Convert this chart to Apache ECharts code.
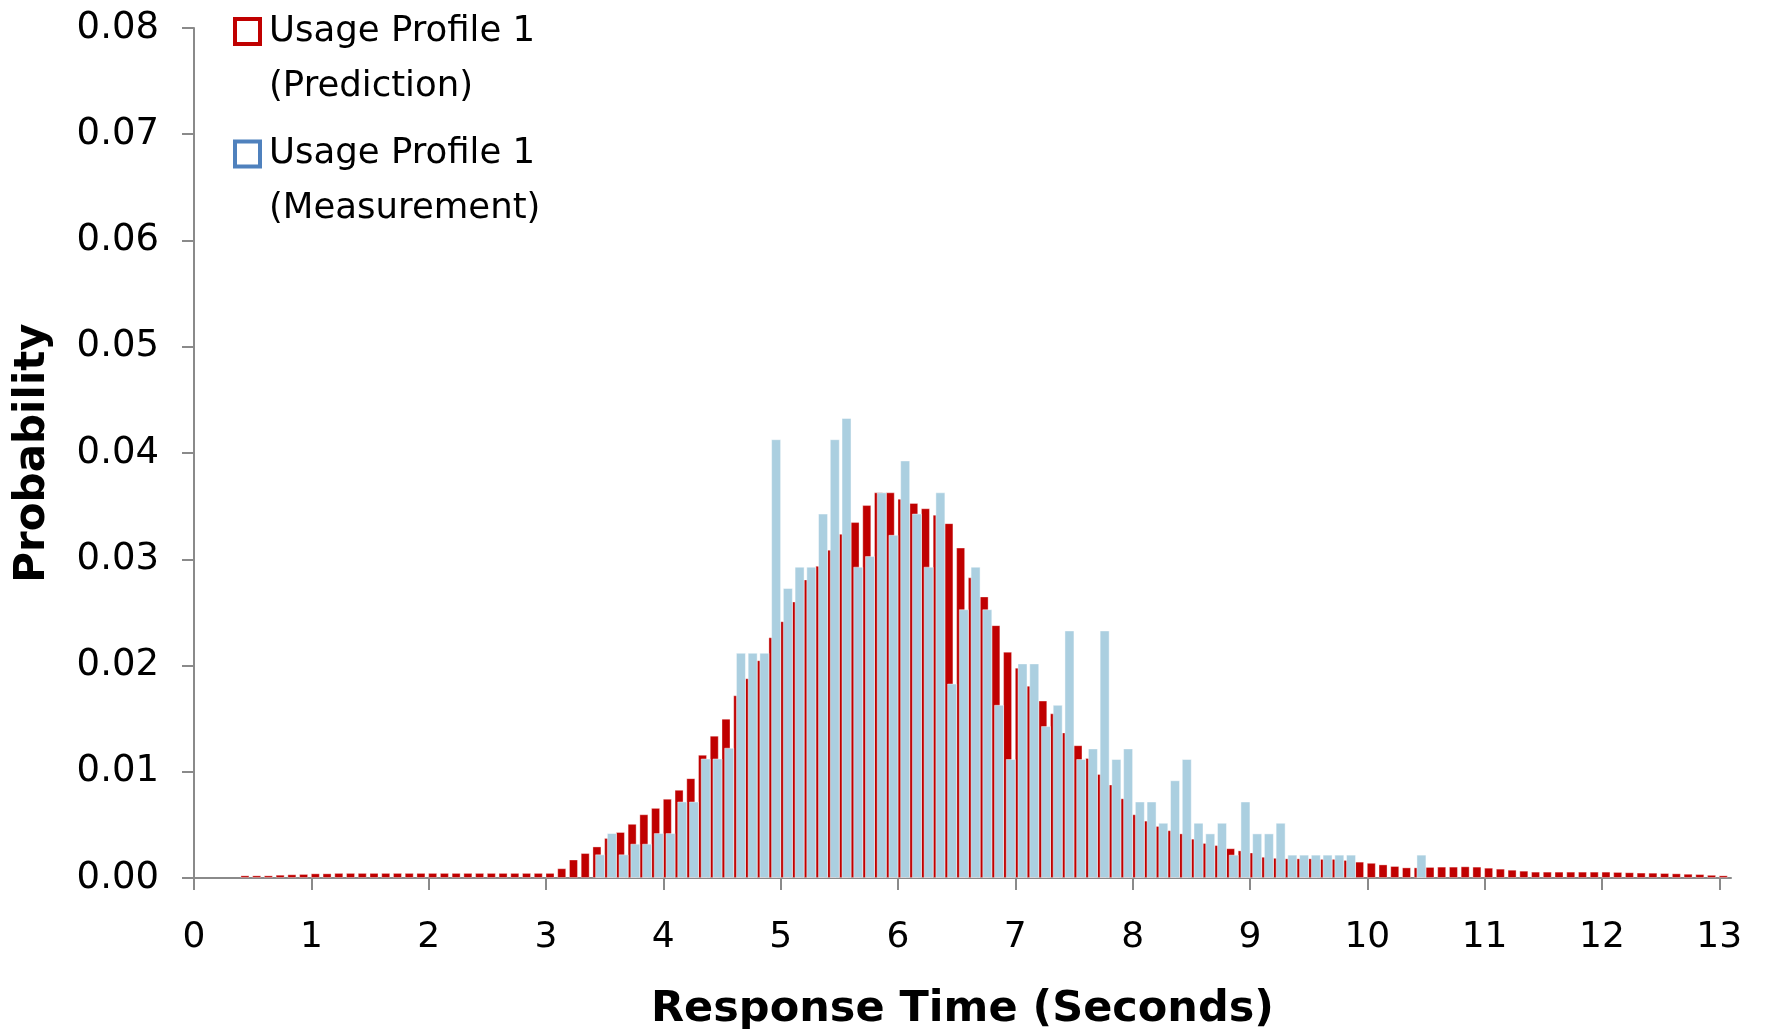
<!DOCTYPE html>
<html>
<head>
<meta charset="utf-8">
<script src="https://cdn.jsdelivr.net/npm/echarts@6/dist/echarts.min.js"></script>
<style>
  html, body { margin: 0; padding: 0; background: #fff; }
  #chart { width: 1765px; height: 1029px; }
</style>
</head>
<body>
<div id="chart"></div>
<script>
// ---- Data (histogram bins of width 0.1 s, labelled by bin start) ----
const binWidth = 0.1;
const predictionStart = 0.4;   // first bin of prediction series
const measurementStart = 3.4;  // first bin of measurement series

const predictionName = 'Usage Profile 1\n(Prediction)';
const measurementName = 'Usage Profile 1\n(Measurement)';

const predictionValues = [
  0.00025, 0.00025, 0.00025, 0.00031, 0.00035, 0.00038, 0.00044, 0.00044,
  0.00048, 0.00048, 0.00048, 0.00048, 0.00048, 0.00048, 0.00048, 0.00048, 0.00048, 0.00048,
  0.00048, 0.00048, 0.00048, 0.00048, 0.00048, 0.00048, 0.00048, 0.00048, 0.00048,
  0.00092, 0.00174, 0.00235, 0.00297, 0.00377, 0.00433, 0.0051, 0.0060, 0.0066, 0.00746,
  0.0083, 0.0094, 0.0116, 0.0134, 0.0150, 0.0172, 0.0188, 0.0205, 0.02266, 0.02417,
  0.02602, 0.0281, 0.02938, 0.0309, 0.0324, 0.0335, 0.0351, 0.0363, 0.0363, 0.0357,
  0.0353, 0.0348, 0.0342, 0.0334, 0.0311, 0.0283, 0.0265, 0.0238, 0.0213, 0.0198,
  0.0181, 0.0167, 0.0155, 0.0137, 0.0125, 0.0113, 0.0098, 0.0088, 0.0075, 0.0060,
  0.0054, 0.0049, 0.0045, 0.0042, 0.0037, 0.0033, 0.0031, 0.0028, 0.0026, 0.0024,
  0.0020, 0.0019, 0.00185, 0.00185, 0.00185, 0.0018, 0.0018, 0.0017, 0.00154, 0.00143,
  0.00128, 0.00113, 0.0010, 0.0010, 0.00104, 0.00107, 0.00107, 0.0011, 0.00107, 0.00097,
  0.00088, 0.00078, 0.00069, 0.0006, 0.0006, 0.0006, 0.0006, 0.0006, 0.0006, 0.0006,
  0.00057, 0.00054, 0.00051, 0.0005, 0.00047, 0.00044, 0.0004, 0.00037, 0.0003, 0.00025
];

const measurementValues = [
  0.00223, 0.00423, 0.00223, 0.00323, 0.00323, 0.00423, 0.00423,
  0.0072, 0.0072, 0.01125, 0.01125, 0.01226, 0.0212, 0.0212, 0.0212, 0.0413, 0.0273,
  0.0293, 0.0293, 0.0343, 0.0413, 0.0433, 0.0293, 0.0303, 0.0363, 0.0323, 0.0393,
  0.0343, 0.0293, 0.0363, 0.0183, 0.0253, 0.0293, 0.0253, 0.0163, 0.0112, 0.0202,
  0.0202, 0.0143, 0.0163, 0.0233, 0.0112, 0.0122, 0.0233, 0.0112, 0.0122, 0.0072,
  0.0072, 0.0052, 0.0092, 0.0112, 0.0052, 0.0042, 0.0052, 0.0022, 0.0072, 0.0042,
  0.0042, 0.0052, 0.0022, 0.0022, 0.0022, 0.0022, 0.0022, 0.0022, null, null,
  null, null, null, 0.0022
];

const xTickValues = [0, 1, 2, 3, 4, 5, 6, 7, 8, 9, 10, 11, 12, 13];
const yTickDecimals = 2;

// ---- Build series data: each bar sits at its bin centre ----
function toBins(start, values) {
  return values.map(function (v, i) {
    const centre = Math.round((start + i * binWidth + binWidth / 2) * 1000) / 1000;
    return [centre, v == null ? '-' : v];
  });
}

const FONT = 'DejaVu Sans';
const AXIS_GREY = '#8a8a8a';

const chart = echarts.init(document.getElementById('chart'), null, { renderer: 'canvas' });

chart.setOption({
  animation: false,
  backgroundColor: '#ffffff',
  grid: { left: 194, right: 34, top: 28, bottom: 151, containLabel: false, outerBoundsMode: 'none' },
  legend: {
    orient: 'vertical',
    left: 233,
    top: -51,
    padding: 0,
    itemGap: -42.6,
    itemWidth: 25,
    itemHeight: 25,
    selectedMode: false,
    // leading empty line keeps the square level with the first text line
    formatter: function (name) { return '\n' + name; },
    textStyle: {
      fontFamily: FONT, fontSize: 35.5, color: '#000',
      lineHeight: 55, padding: [0, 0, 0, 4]
    },
    data: [
      { name: predictionName, icon: 'rect',
        itemStyle: { color: '#ffffff', borderColor: '#C00000', borderWidth: 4 } },
      { name: measurementName, icon: 'rect',
        itemStyle: { color: '#ffffff', borderColor: '#4F81BD', borderWidth: 4 } }
    ]
  },
  xAxis: {
    type: 'value',
    min: 0,
    max: 13.1,
    interval: 1,
    name: 'Response Time (Seconds)',
    nameLocation: 'middle',
    nameGap: 110,
    nameTextStyle: { fontFamily: FONT, fontSize: 43, fontWeight: 'bold', color: '#000' },
    axisLine: { show: true, lineStyle: { color: AXIS_GREY, width: 2 } },
    axisTick: { show: true, length: 12, lineStyle: { color: AXIS_GREY, width: 2 },
                customValues: xTickValues },
    axisLabel: { fontFamily: FONT, fontSize: 36, color: '#000', margin: 42,
                 customValues: xTickValues },
    splitLine: { show: false }
  },
  yAxis: {
    type: 'value',
    min: 0,
    max: 0.08,
    interval: 0.01,
    name: 'Probability',
    nameLocation: 'middle',
    nameRotate: 90,
    nameGap: 140,
    nameTextStyle: { fontFamily: FONT, fontSize: 42, fontWeight: 'bold', color: '#000' },
    axisLine: { show: true, lineStyle: { color: AXIS_GREY, width: 2 } },
    axisTick: { show: true, length: 12, lineStyle: { color: AXIS_GREY, width: 2 } },
    axisLabel: {
      fontFamily: FONT, fontSize: 37, color: '#000', margin: 35,
      formatter: function (v) { return v.toFixed(yTickDecimals); }
    },
    splitLine: { show: false }
  },
  series: [
    {
      name: predictionName,
      type: 'bar',
      barWidth: 9,
      barGap: '-70%',
      itemStyle: { color: '#C00000', borderColor: 'rgba(255,255,255,0.35)', borderWidth: 1 },
      data: toBins(predictionStart, predictionValues)
    },
    {
      name: measurementName,
      type: 'bar',
      barWidth: 10,
      barGap: '-70%',
      itemStyle: { color: '#ABCFE0', borderColor: 'rgba(255,255,255,0.45)', borderWidth: 1 },
      data: toBins(measurementStart, measurementValues)
    }
  ]
});
</script>
</body>
</html>
